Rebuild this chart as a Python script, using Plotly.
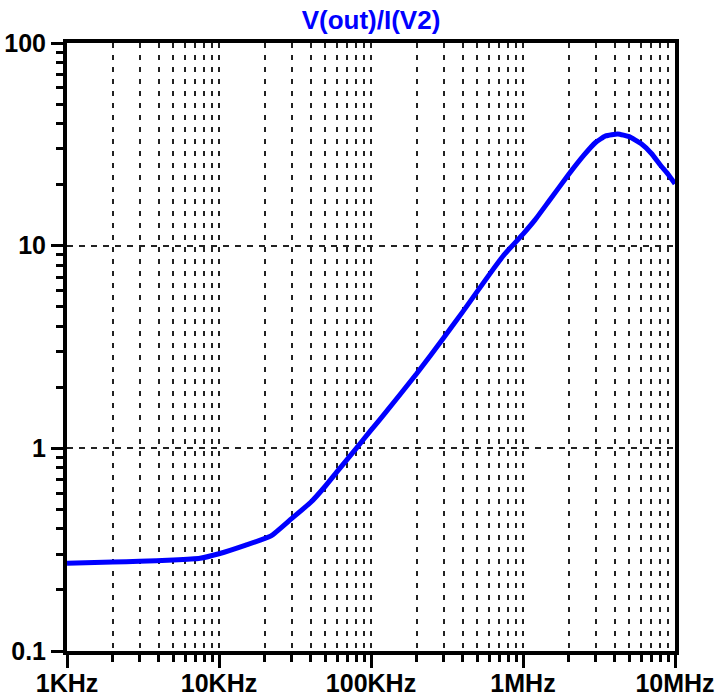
import plotly.graph_objects as go

freq_hz = [1e3, 2e3, 3e3, 5e3, 7.5e3, 10e3, 15e3, 22e3, 30e3, 40e3, 50e3, 60e3, 80e3,
           100e3, 120e3, 200e3, 300e3, 400e3, 600e3, 750e3, 1e6, 1.2e6, 1.5e6, 2e6,
           2.5e6, 3e6, 3.5e6, 4.2e6, 5e6, 6e6, 7e6, 8e6, 9e6, 10e6]
impedance = [0.271, 0.275, 0.277, 0.281, 0.287, 0.302, 0.333, 0.37, 0.45, 0.54, 0.65,
             0.77, 1.0, 1.23, 1.45, 2.34, 3.5, 4.7, 7.2, 9.0, 11.4, 13.4, 16.8, 22.5,
             27.8, 32.3, 34.8, 35.6, 34.5, 31.8, 28.5, 25.0, 22.5, 20.2]

x_tickvals = [1e3, 1e4, 1e5, 1e6, 1e7]
x_ticktext = ["1KHz", "10KHz", "100KHz", "1MHz", "10MHz"]
y_tickvals = [0.1, 1, 10, 100]
y_ticktext = ["0.1", "1", "10", "100"]
title_text = "V(out)/I(V2)"

FONT = "Liberation Sans, Arial, sans-serif"

fig = go.Figure()
fig.add_trace(go.Scatter(x=freq_hz, y=impedance, mode="lines",
                         line=dict(color="#0000FF", width=5, shape="spline", smoothing=0.4),
                         showlegend=False, hoverinfo="skip"))

fig.update_xaxes(
    type="log", range=[3, 7], automargin=False,
    tickvals=x_tickvals, ticktext=x_ticktext,
    ticks="outside", ticklen=13, tickwidth=3, tickcolor="black",
    ticklabelstandoff=-6,
    showline=True, linewidth=4, linecolor="black", mirror=True,
    showgrid=True, gridcolor="#222222", gridwidth=1.5, griddash="5px,7px",
    tickfont=dict(family=FONT, size=25, color="black", weight="bold"),
    minor=dict(dtick="D1", ticks="outside", ticklen=7, tickwidth=3, tickcolor="black",
               showgrid=True, gridcolor="#222222", gridwidth=1.5, griddash="5px,7px"),
    zeroline=False,
)
fig.update_yaxes(
    type="log", range=[-1, 2], automargin=False,
    tickvals=y_tickvals, ticktext=y_ticktext,
    ticks="outside", ticklen=12, tickwidth=3, tickcolor="black",
    showline=True, linewidth=4, linecolor="black", mirror=True,
    showgrid=True, gridcolor="#222222", gridwidth=1.5, griddash="6px,6px",
    tickfont=dict(family=FONT, size=25, color="black", weight="bold"),
    minor=dict(dtick="D1", ticks="outside", ticklen=7, tickwidth=3, tickcolor="black",
               showgrid=False),
    zeroline=False,
)

fig.update_layout(
    width=717, height=696,
    margin=dict(l=67, r=42, t=43, b=45, autoexpand=False),
    plot_bgcolor="white", paper_bgcolor="white",
    title=dict(text=title_text, x=0.5, xref="paper", xanchor="center",
               y=1 - 20 / 696, yref="container", yanchor="middle",
               font=dict(family=FONT, size=26, color="#0000FF", weight="bold")),
)

fig.write_html("out.html", config={"displayModeBar": False},
               post_script="document.body.style.margin='0';document.body.style.overflow='hidden';")
